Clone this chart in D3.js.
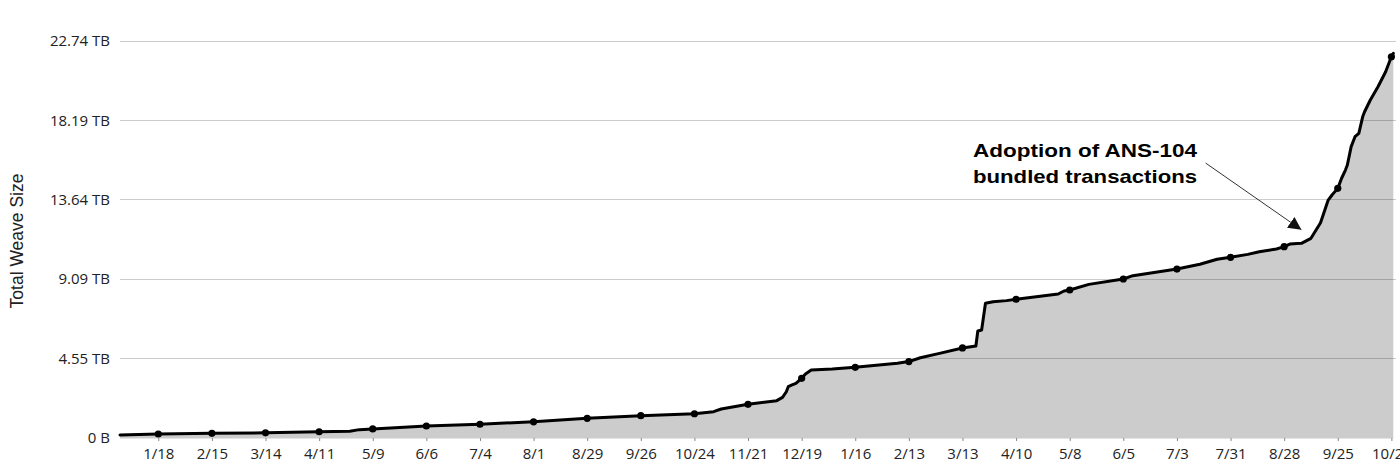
<!DOCTYPE html>
<html>
<head>
<meta charset="utf-8">
<script src="https://cdn.jsdelivr.net/npm/d3@7"></script>
<style>
  html, body { margin: 0; padding: 0; background: #fff; }
  svg { display: block; }
</style>
</head>
<body>
<svg id="chart" width="1400" height="473"></svg>
<script>
// ---- data ----
const dates = [
  "2019-12-29","2020-01-18","2020-02-15","2020-03-14","2020-04-11","2020-04-27","2020-05-02",
  "2020-05-09","2020-06-06","2020-07-04","2020-08-01","2020-08-29","2020-09-26","2020-10-24",
  "2020-11-03","2020-11-07","2020-11-21","2020-12-06","2020-12-09","2020-12-11","2020-12-12",
  "2020-12-14","2020-12-16","2020-12-19","2020-12-21","2020-12-24","2021-01-04","2021-01-16",
  "2021-02-07","2021-02-13","2021-02-19","2021-03-01","2021-03-13","2021-03-20","2021-03-21",
  "2021-03-23","2021-03-25","2021-03-29","2021-04-05","2021-04-10","2021-05-02","2021-05-05",
  "2021-05-08","2021-05-18","2021-06-05","2021-06-10","2021-07-03","2021-07-15","2021-07-24",
  "2021-07-31","2021-08-09","2021-08-15","2021-08-24","2021-08-28","2021-08-31","2021-09-06",
  "2021-09-11","2021-09-16","2021-09-20","2021-09-22","2021-09-25","2021-09-27","2021-09-29",
  "2021-09-30","2021-10-02","2021-10-04","2021-10-06","2021-10-08","2021-10-09","2021-10-12",
  "2021-10-16","2021-10-20","2021-10-23","2021-10-24"
];
const weaveTB = [
  0.14, 0.20, 0.24, 0.27, 0.33, 0.36, 0.45,
  0.49, 0.66, 0.76, 0.90, 1.10, 1.25, 1.36,
  1.48, 1.63, 1.90, 2.11, 2.30, 2.62, 2.91,
  3.01, 3.10, 3.39, 3.64, 3.87, 3.92, 4.02,
  4.25, 4.35, 4.57, 4.82, 5.13, 5.24, 6.10,
  6.16, 7.69, 7.78, 7.84, 7.92, 8.22, 8.39,
  8.45, 8.77, 9.08, 9.27, 9.65, 9.92, 10.21,
  10.32, 10.49, 10.64, 10.80, 10.93, 11.08, 11.12,
  11.41, 12.30, 13.60, 13.89, 14.27, 14.85, 15.32,
  15.61, 16.66, 17.23, 17.42, 18.37, 18.66, 19.33,
  20.09, 20.95, 21.81, 22.00
];
const markerDates = [
  "2020-01-18","2020-02-15","2020-03-14","2020-04-11","2020-05-09","2020-06-06","2020-07-04",
  "2020-08-01","2020-08-29","2020-09-26","2020-10-24","2020-11-21","2020-12-19","2021-01-16",
  "2021-02-13","2021-03-13","2021-04-10","2021-05-08","2021-06-05","2021-07-03","2021-07-31",
  "2021-08-28","2021-09-25","2021-10-23"
];
const xTickDates = markerDates;
const yTickValues = [0, 4.548, 9.096, 13.644, 18.192, 22.74];
const yTickLabels = ["0 B", "4.55 TB", "9.09 TB", "13.64 TB", "18.19 TB", "22.74 TB"];
const yTitle = "Total Weave Size";
const annotationLines = ["Adoption of ANS-104", "bundled transactions"];
// annotation anchor positions in data space
const annoText = { date: "2021-05-16", value: 16.07 };
const annoTail = { date: "2021-07-18", value: 15.72 };
const annoTip  = { date: "2021-09-06", value: 11.90 };

// ---- chart ----
const parse = d3.utcParse("%Y-%m-%d");
const data = dates.map((d, i) => ({ date: parse(d), v: weaveTB[i] }));
const byDate = new Map(dates.map((d, i) => [d, weaveTB[i]]));

const svg = d3.select("#chart");
const x = d3.scaleUtc()
  .domain([parse("2019-12-29"), parse("2021-10-24")])
  .range([120, 1393.3]);
const y = d3.scaleLinear().domain([0, 22.74]).range([437.5, 40.5]);

// area
const area = d3.area().x(d => x(d.date)).y0(y(0) + 1).y1(d => y(d.v));
svg.append("path").datum(data).attr("d", area).attr("fill", "#cccccc");

// gridlines over fill
const gridG = svg.append("g");
gridG.selectAll("line").data(yTickValues.slice(1)).join("line")
  .attr("x1", 120).attr("x2", 1396)
  .attr("y1", d => Math.round(y(d)) + 0.5).attr("y2", d => Math.round(y(d)) + 0.5)
  .attr("stroke", "#000").attr("stroke-opacity", 0.2).attr("stroke-width", 1.2);

// y axis labels
const yAxis = d3.axisLeft(y).tickValues(yTickValues)
  .tickFormat((d, i) => yTickLabels[i]).tickSize(0).tickPadding(0);
const yg = svg.append("g").attr("transform", "translate(110,0)").call(yAxis);
yg.select(".domain").remove();
yg.selectAll("text")
  .attr("font-family", "'Open Sans', 'Noto Sans', sans-serif")
  .attr("font-size", 15).attr("fill", "#222").attr("dy", "0.34em");

// x axis
const xAxis = d3.axisBottom(x).tickValues(xTickDates.map(parse))
  .tickFormat(d3.utcFormat("%-m/%-d")).tickSize(3).tickPadding(7);
const xg = svg.append("g").attr("transform", "translate(0,438)").call(xAxis);
xg.select(".domain").remove();
xg.selectAll(".tick line").attr("stroke", "#888");
xg.selectAll("text")
  .attr("font-family", "'Open Sans', 'Noto Sans', sans-serif")
  .attr("font-size", 15).attr("fill", "#222");

// line
const line = d3.line().x(d => x(d.date)).y(d => y(d.v));
svg.append("path").datum(data).attr("d", line)
  .attr("fill", "none").attr("stroke", "#000").attr("stroke-width", 3)
  .attr("stroke-linejoin", "round").attr("stroke-linecap", "round");

// markers
svg.append("g").selectAll("circle").data(markerDates).join("circle")
  .attr("cx", d => x(parse(d))).attr("cy", d => y(byDate.get(d)))
  .attr("r", 3.6).attr("fill", "#000");

// y title
svg.append("text")
  .attr("transform", `translate(23,${241}) rotate(-90)`)
  .attr("text-anchor", "middle")
  .attr("font-family", "'Liberation Sans', Arial, sans-serif")
  .attr("font-size", 17.5).attr("fill", "#222")
  .text(yTitle);

// annotation
const ax = x(parse(annoText.date)), ay = y(annoText.value);
const at = svg.append("text")
  .attr("font-family", "'Liberation Sans', Arial, sans-serif")
  .attr("font-weight", "bold").attr("font-size", 19).attr("fill", "#000")
  .attr("text-anchor", "middle");
annotationLines.forEach((t, i) => {
  at.append("tspan").attr("x", ax).attr("y", ay + i * 26)
    .attr("textLength", 224).attr("lengthAdjust", "spacingAndGlyphs").text(t);
});

svg.append("defs").append("marker")
  .attr("id", "arrow").attr("viewBox", "0 0 10 10")
  .attr("refX", 10).attr("refY", 5)
  .attr("markerWidth", 13).attr("markerHeight", 13)
  .attr("markerUnits", "userSpaceOnUse")
  .attr("orient", "auto")
  .append("path").attr("d", "M0,0 L10,5 L0,10 Z").attr("fill", "#111");

svg.append("line")
  .attr("x1", x(parse(annoTail.date))).attr("y1", y(annoTail.value))
  .attr("x2", x(parse(annoTip.date))).attr("y2", y(annoTip.value))
  .attr("stroke", "#333").attr("stroke-width", 1)
  .attr("marker-end", "url(#arrow)");
</script>
</body>
</html>
